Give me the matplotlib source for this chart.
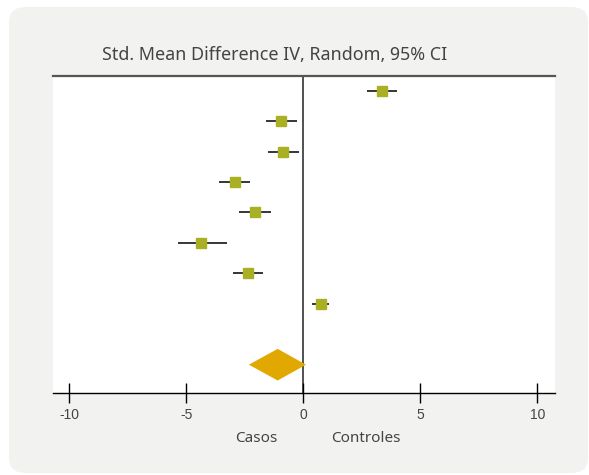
import matplotlib
matplotlib.use("Agg")
import matplotlib.pyplot as plt
from matplotlib.patches import FancyBboxPatch, Polygon

# study estimates (std. mean difference) with 95% CI
estimates = [3.36, -0.95, -0.86, -2.91, -2.06, -4.39, -2.35, 0.76]
ci_low = [2.70, -1.59, -1.53, -3.61, -2.74, -5.34, -3.03, 0.35]
ci_high = [4.00, -0.27, -0.21, -2.27, -1.40, -3.28, -1.71, 1.10]
rows = [1, 2, 3, 4, 5, 6, 7, 8]

# pooled random-effects estimate
pooled = -1.10
pooled_low = -2.33
pooled_high = 0.11
pooled_row = 10

xticks = [-10, -5, 0, 5, 10]
title = "Std. Mean Difference IV, Random, 95% CI"
left_label = "Casos"
right_label = "Controles"

W, H = 589, 475
fig = plt.figure(figsize=(W / 100, H / 100), dpi=100, facecolor="white")

panel = FancyBboxPatch((9 / W, 2 / H), 579 / W, 466 / H,
                       boxstyle="round,pad=0,rounding_size=0.03",
                       transform=fig.transFigure, facecolor="#f2f2f1",
                       edgecolor="none", zorder=-5)
fig.patches.append(panel)

ax = fig.add_axes([53 / W, 1 - 393 / H, (555 - 53) / W, (393 - 75.5) / H])
ax.set_zorder(1)
ax.set_facecolor("white")
ax.set_xlim(-10.7, 10.75)
ax.set_ylim(10.93, 0.5)

for s in ["left", "right"]:
    ax.spines[s].set_visible(False)
ax.spines["top"].set_color("#555555")
ax.spines["top"].set_linewidth(1.6)
ax.spines["bottom"].set_color("black")
ax.spines["bottom"].set_linewidth(1.0)

ax.axvline(0, color="#333333", lw=1.2, zorder=1)

ax.hlines(rows, ci_low, ci_high, color="black", lw=1.1, zorder=2)
ax.plot(estimates, rows, "s", color="#a9b023", markersize=6.8, zorder=3)

dh = 0.52
diamond = Polygon([(pooled_low, pooled_row), (pooled, pooled_row - dh),
                   (pooled_high, pooled_row), (pooled, pooled_row + dh)],
                  closed=True, facecolor="#e0a800", edgecolor="none", zorder=3)
ax.add_patch(diamond)

ax.set_yticks([])
ax.set_xticks(xticks)
ax.set_xticklabels([str(t) for t in xticks], fontfamily="Liberation Sans",
                   fontsize=10, color="#444444")
ax.tick_params(axis="x", direction="inout", length=15, width=1.0,
               color="black", pad=3)

fig.text(275 / W, 1 - 55 / H, title, ha="center", va="center",
         fontfamily="Noto Sans", fontsize=12.9, color="#444444")
fig.text(256 / W, 1 - 438 / H, left_label, ha="center", va="center",
         fontfamily="Noto Sans", fontsize=11, color="#444444")
fig.text(366 / W, 1 - 438 / H, right_label, ha="center", va="center",
         fontfamily="Noto Sans", fontsize=11, color="#444444")

fig.savefig("out.png", dpi=100, facecolor="white")
